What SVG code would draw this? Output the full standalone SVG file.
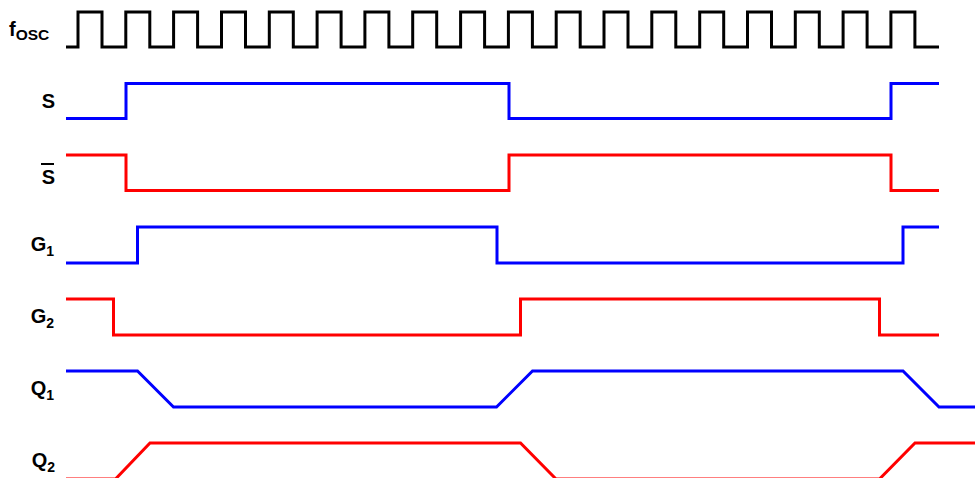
<svg xmlns="http://www.w3.org/2000/svg" width="975" height="478" viewBox="0 0 975 478">
<style>
.lbl{font-family:"Liberation Sans",Arial,sans-serif;font-weight:bold;font-size:20px;fill:#000}
.sub{font-size:14px}
.w{fill:none;stroke-width:3;stroke-linejoin:miter;stroke-linecap:butt}
.k{stroke:#000}
.b{stroke:#0000FF}
.r{stroke:#FF0000}
</style>
<rect width="975" height="478" fill="#fff"/>
<g id="labels">
<g id="label-fosc"><text class="lbl" x="9" y="36">f<tspan class="sub" style="font-size:15.5px" dy="4">OSC</tspan></text></g>
<g id="label-S"><text class="lbl" x="55" y="108" text-anchor="end">S</text></g>
<g id="label-Sbar"><text class="lbl" x="55" y="184" text-anchor="end">S</text><line x1="41" y1="164" x2="54" y2="164" stroke="#000" stroke-width="2"/></g>
<g id="label-G1"><text class="lbl" x="54" y="251" text-anchor="end">G<tspan class="sub" dy="5">1</tspan></text></g>
<g id="label-G2"><text class="lbl" x="54" y="323" text-anchor="end">G<tspan class="sub" dy="5">2</tspan></text></g>
<g id="label-Q1"><text class="lbl" x="54" y="395" text-anchor="end">Q<tspan class="sub" dy="5">1</tspan></text></g>
<g id="label-Q2"><text class="lbl" x="55" y="467" text-anchor="end">Q<tspan class="sub" dy="5">2</tspan></text></g>
</g>
<g id="waveforms">
<path id="fosc" class="w k" d="M66,47H78V12H102V47H125.8V12H149.8V47H173.6V12H197.6V47H221.5V12H245.5V47H269.3V12H293.3V47H317.1V12H341.1V47H364.9V12H388.9V47H412.7V12H436.7V47H460.6V12H484.6V47H508.4V12H532.4V47H556.2V12H580.2V47H604V12H628V47H651.8V12H675.8V47H699.7V12H723.7V47H747.5V12H771.5V47H795.3V12H819.3V47H843.1V12H867.1V47H890.9V12H914.9V47H939"/>
<path id="S" class="w b" d="M66,118.5H126V83.5H509V118.5H891V83.5H939"/>
<path id="Sbar" class="w r" d="M66,155H126V190.5H509V155H891V190.5H939"/>
<path id="G1" class="w b" d="M66,263H137.5V227H497V263H903V227H939"/>
<path id="G2" class="w r" d="M66,299H113.5V335H520.5V299H879.5V335H939"/>
<path id="Q1" class="w b" d="M66,371H137.5L173.5,407H496.5L532.5,371H903L939,407H975"/>
<path id="Q2" class="w r" d="M66,479H115.5L150,443H520.5L556,479H879.5L915,443H975"/>
</g>
</svg>
